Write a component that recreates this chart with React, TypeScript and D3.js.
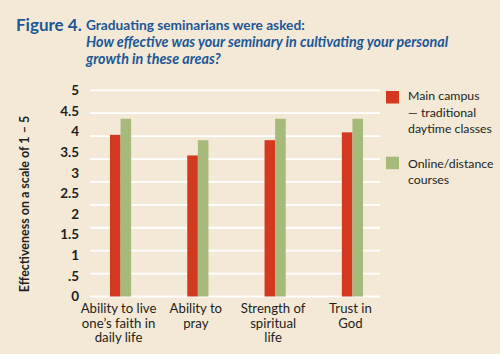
import React from "react";
import * as d3 from "d3";

const categories = [
  ["Ability to live", "one\u2019s faith in", "daily life"],
  ["Ability to", "pray"],
  ["Strength of", "spiritual", "life"],
  ["Trust in", "God"],
];
const categoryKeys = ["live", "pray", "strength", "trust"];
const mainCampus = [3.92, 3.42, 3.79, 3.98];
const online = [4.31, 3.79, 4.31, 4.31];
const yTickLabels = ["0", ".5", "1", "1.5", "2", "2.5", "3", "3.5", "4", "4.5", "5"];
const yTickValues = [0, 0.5, 1, 1.5, 2, 2.5, 3, 3.5, 4, 4.5, 5];
const gridCount = 10;
const legendMain = ["Main campus", "\u2014 traditional", "daytime classes"];
const legendOnline = ["Online/distance", "courses"];

const BG = "#f3e9d6";
const RED = "#d2391f";
const GREEN = "#a6ba7b";
const BLUE = "#1c5796";
const DARK = "#231f20";
const FONT = "Lato, 'Open Sans', sans-serif";

export default function App() {
  const W = 500, H = 354;
  const y = d3.scaleLinear().domain([0, 5]).range([296.5, 90.3]);
  const x = d3.scaleBand<string>().domain(categoryKeys).range([81.9, 391.1]);
  const barW = 10.6;
  const gridVals = d3.range(gridCount).map((i) => (i * 5) / (gridCount - 1));

  return (
    <svg width={W} height={H} style={{ position: "absolute", left: 0, top: 0 }}>
      <rect x={0} y={0} width={W} height={H} fill={BG} />
      <text x={16} y={31} fill={BLUE} fontFamily={FONT} fontWeight={700} fontSize={17}>
        Figure 4.
      </text>
      <text x={86} y={30} fill={BLUE} fontFamily={FONT} fontWeight={700} fontSize={13.7}>
        Graduating seminarians were asked:
      </text>
      <text x={86} y={47} fill={BLUE} fontFamily={FONT} fontWeight={700} fontStyle="italic" fontSize={14.3}>
        How effective was your seminary in cultivating your personal
      </text>
      <text x={86} y={63.5} fill={BLUE} fontFamily={FONT} fontWeight={700} fontStyle="italic" fontSize={14.3}>
        growth in these areas?
      </text>

      {gridVals.map((v, i) => (
        <line key={i} x1={90} x2={380} y1={y(v)} y2={y(v)} stroke="#ffffff" strokeWidth={1.8} />
      ))}

      {yTickValues.map((v, i) => (
        <text key={i} x={79} y={y(v)} dy="0.35em" textAnchor="end" fill={DARK}
          fontFamily={FONT} fontWeight={700} fontSize={13.5}>
          {yTickLabels[i]}
        </text>
      ))}

      <text transform={`translate(29,204) rotate(-90)`} textAnchor="middle" fill={DARK}
        fontFamily={FONT} fontWeight={700} fontSize={12.5}>
        Effectiveness on a scale of 1 – 5
      </text>

      {categoryKeys.map((k, i) => {
        const cx = (x(k) as number) + x.bandwidth() / 2;
        return (
          <g key={k}>
            <rect x={cx - barW} y={y(mainCampus[i])} width={barW} height={y(0) - y(mainCampus[i])} fill={RED} />
            <rect x={cx} y={y(online[i])} width={barW} height={y(0) - y(online[i])} fill={GREEN} />
            {categories[i].map((line, j) => (
              <text key={j} x={cx - 2} y={313.3 + j * 14.5} textAnchor="middle" fill={DARK}
                fontFamily={FONT} fontSize={13.2}>
                {line}
              </text>
            ))}
          </g>
        );
      })}

      <rect x={386} y={91} width={13} height={12.5} fill={RED} />
      {legendMain.map((t, i) => (
        <text key={i} x={408} y={100 + i * 16.6} fill={DARK} fontFamily={FONT} fontSize={12.3}>
          {t}
        </text>
      ))}
      <rect x={386} y={156.7} width={13} height={12.5} fill={GREEN} />
      {legendOnline.map((t, i) => (
        <text key={i} x={408} y={168 + i * 16.4} fill={DARK} fontFamily={FONT} fontSize={12.3}>
          {t}
        </text>
      ))}
    </svg>
  );
}
